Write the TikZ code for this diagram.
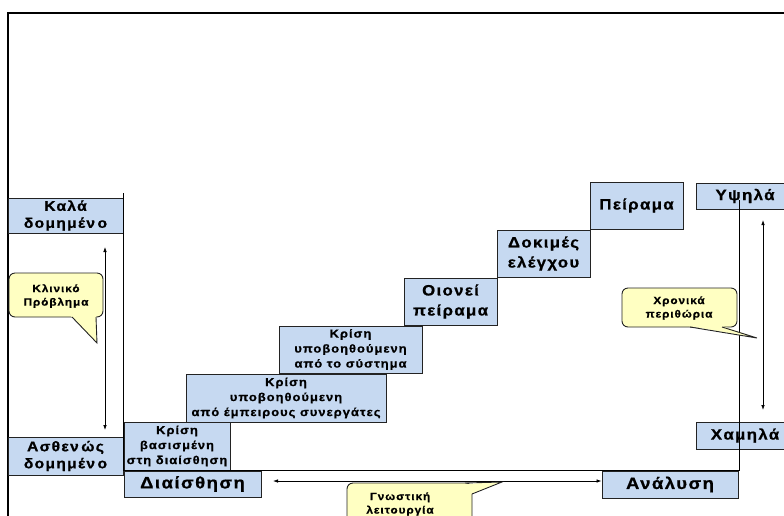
\documentclass[tikz,border=0pt]{standalone}
\usepackage{fontspec}
\setmainfont{Liberation Sans}[LetterSpace=9,FakeStretch=1.12,BoldFeatures={FakeBold=0.8}]
\usetikzlibrary{arrows.meta}
\definecolor{boxblue}{RGB}{198,217,241}
\definecolor{noteyellow}{RGB}{255,255,194}
\definecolor{edgegray}{RGB}{35,35,35}
\newcommand{\fs}[2]{\fontsize{#1}{#2}\selectfont\bfseries}
\newcommand{\gap}{\hspace{2.5pt}}
\begin{document}
\begin{tikzpicture}[x=1pt,y=-1pt,
  stage/.style={draw=edgegray,fill=boxblue,line width=0.9pt,inner sep=0pt,
                align=center,anchor=center},
  bigtxt/.style={font=\fs{15}{20}},
  midtxt/.style={font=\fs{14}{17}},
  smalltxt/.style={font=\fs{11.5}{15}},
  notebox/.style={draw=edgegray,fill=noteyellow,line width=0.9pt,rounded corners=6pt},
  notetxt/.style={font=\fs{10.5}{13.5},align=center,inner sep=0pt},
  tipfill/.style={fill=noteyellow,draw=none},
  tipedge/.style={draw=edgegray,line width=0.9pt,line join=miter},
  axisline/.style={draw=black,line width=1pt},
  dbl/.style={draw=black,line width=0.8pt,{Latex[length=5pt,width=3.6pt]}-{Latex[length=5pt,width=3.6pt]}}]
\useasboundingbox (0,0) rectangle (784,515);
\clip (0,0) rectangle (784,515);

% outer frame
\draw[line width=1.1pt] (8,520) -- (8,13) -- (800,13);

% structure of the problem (left)
\node[stage,midtxt,minimum width=115pt,minimum height=35pt] (kala) at (65.5,215.5) {Καλά\\δομημέν\gap ο};
\node[stage,midtxt,minimum width=115pt,minimum height=38pt] (asthenos) at (65.5,456) {Ασθεν\gap ώς\\δομημέν\gap ο};

% the staircase of decision modes
\node[stage,smalltxt,minimum width=106pt,minimum height=48pt] (krisi1) at (177,446) {Κρίση\\βασισμένη\\στη διαίσθηση};
\node[stage,smalltxt,minimum width=200pt,minimum height=48pt] (krisi2) at (286,398) {Κρίση\\υποβοηθούμενη\\από έμπειρους συνεργάτες};
\node[stage,smalltxt,minimum width=143pt,minimum height=47pt] (krisi3) at (350.5,349.5) {Κρίση\\υποβοηθούμενη\\από το σύστημα};
\node[stage,bigtxt,minimum width=93pt,minimum height=47pt] (oionei) at (450.5,301.5) {Οιονεί\\πείραμα};
\node[stage,bigtxt,minimum width=93pt,minimum height=47pt] (dokimes) at (543.5,253.5) {Δοκιμές\\ελέγχου};
\node[stage,bigtxt,minimum width=93pt,minimum height=47pt] (peirama) at (636.5,205.5) {Πείραμα};

% cognitive mode (bottom)
\node[stage,font=\fs{16.5}{20},minimum width=137pt,minimum height=26pt] (diaisthisi) at (192.5,484) {Διαίσθηση};
\node[stage,font=\fs{16.5}{20},minimum width=136pt,minimum height=27pt] (analysi) at (670,484.5) {Ανάλυση};

% time available (right)
\node[stage,bigtxt,minimum width=98pt,minimum height=26pt] (ypsila) at (745,196) {Υψηλά};
\node[stage,bigtxt,minimum width=98pt,minimum height=27pt] (xamila) at (745,435.5) {Χαμηλά};

% axes
\draw[axisline] (123,193) -- (123,470) -- (739,470) -- (739,200);

% double arrows
\coordinate (la) at (105,247);
\coordinate (lb) at (105,430);
\coordinate (ra) at (763,220);
\coordinate (rb) at (763,410);
\coordinate (ba) at (273,481);
\draw[dbl] (la) -- (lb);
\draw[dbl] (ra) -- (rb);
\draw[dbl] (ba) -- (analysi.west |- ba);

% callout: clinical problem
\draw[notebox] (9,273) rectangle (103,317);
\fill[tipfill] (71,316) -- (97,343) -- (96,316) -- cycle;
\draw[tipedge] (72,317) -- (97,343) -- (96,317);
\node[notetxt] (klin) at (56,296) {Κλινικό\\Πρόβλημα};

% callout: time available
\draw[notebox] (622,288) rectangle (737,327);
\fill[tipfill] (689,326) -- (757,338) -- (722,326) -- cycle;
\draw[tipedge] (690,327) -- (757,338) -- (722,327);
\node[notetxt] (xron) at (679,308) {Χρονικά\\περιθώρια};

% callout: cognitive mode
\draw[notebox] (347,483) rectangle (472,528);
\fill[tipfill] (465,484) -- (502,482) -- (471,494) -- cycle;
\draw[tipedge] (465,483) -- (502,482) -- (472,494);
\node[notetxt] (gnos) at (400,504) {Γνωστική\\λειτουργία};
\end{tikzpicture}
\end{document}
